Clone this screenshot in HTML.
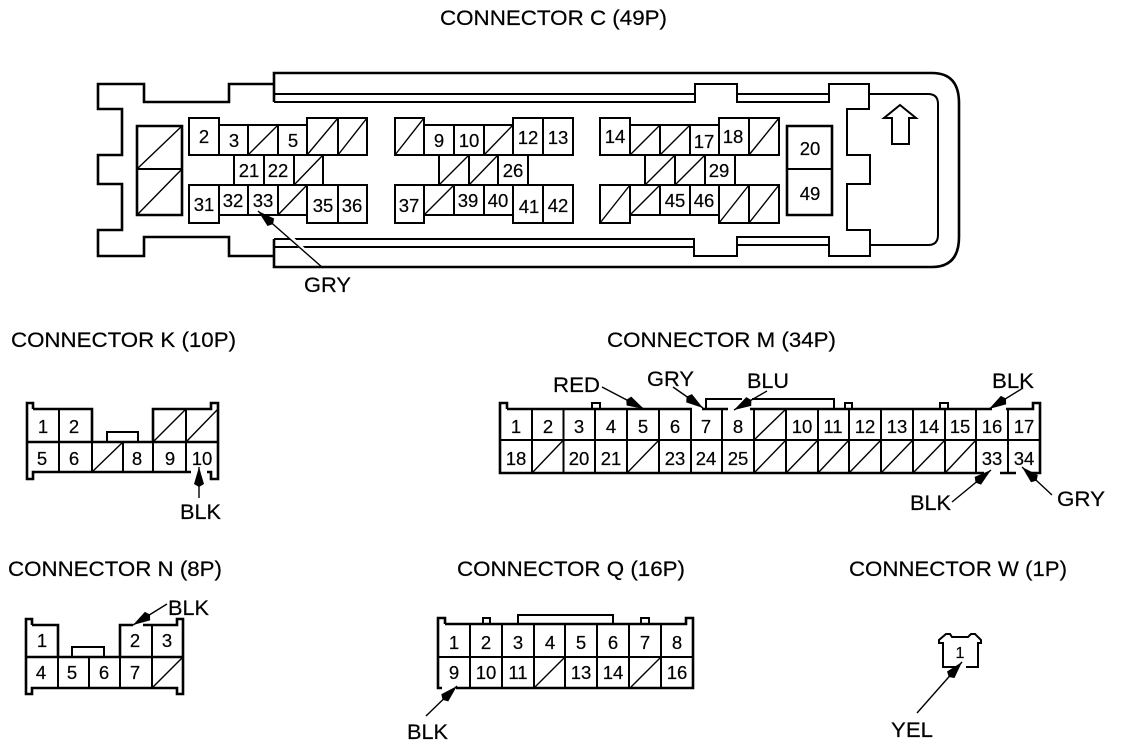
<!DOCTYPE html>
<html><head><meta charset="utf-8"><title>Connector views</title>
<style>
html,body{margin:0;padding:0;background:#fff}
svg{display:block}
text{font-family:"Liberation Sans",sans-serif;fill:#000;stroke:#000;stroke-width:.2}
.t{font-size:21.5px}
.l{font-size:21.5px}
.n{font-size:18.5px;text-anchor:middle}
.o{fill:none;stroke:#000;stroke-width:2.6}
.c{fill:none;stroke:#000;stroke-width:2}
.s{fill:none;stroke:#000;stroke-width:1.4}
.a{fill:none;stroke:#000;stroke-width:1.4;marker-end:url(#h)}
.w{fill:none;stroke:#fff;stroke-width:4}
</style></head><body>
<svg width="1136" height="746" viewBox="0 0 1136 746" xmlns="http://www.w3.org/2000/svg">
<defs><marker id="h" markerUnits="userSpaceOnUse" markerWidth="22" markerHeight="12" refX="20" refY="6" orient="auto"><path d="M0 6L3 1L20 6L3 11z" fill="#000"/></marker></defs>
<rect width="1136" height="746" fill="#fff"/>

<!-- Titles -->
<text class="t" x="440" y="25" textLength="227" lengthAdjust="spacingAndGlyphs">CONNECTOR C (49P)</text>
<text class="t" x="11" y="347" textLength="225" lengthAdjust="spacingAndGlyphs">CONNECTOR K (10P)</text>
<text class="t" x="607" y="347" textLength="229" lengthAdjust="spacingAndGlyphs">CONNECTOR M (34P)</text>
<text class="t" x="8" y="576" textLength="214" lengthAdjust="spacingAndGlyphs">CONNECTOR N (8P)</text>
<text class="t" x="457" y="576" textLength="228" lengthAdjust="spacingAndGlyphs">CONNECTOR Q (16P)</text>
<text class="t" x="849" y="576" textLength="218" lengthAdjust="spacingAndGlyphs">CONNECTOR W (1P)</text>

<!-- Connector C housing -->
<path class="o" d="M274 84H229V102H144V84H98V109H122V155H98V184H122V230H98V256H144V237H229V256H274"/>
<path class="o" d="M274 102V73H932Q959 73 959 103V237Q959 267 932 267H274V239"/>
<path class="c" d="M274 94H695M274 102H695V84H737V102H829V84H869V109H847V155H870V184H847V230H870V256H829V237H737V256H694V239H274M274 247H694M737 94H829M737 245H829"/>
<path class="c" d="M869 94H928Q938 94 938 104V235Q938 245 928 245H870"/>
<path class="c" d="M900 105L884 118H892V144H909V118H916Z"/>

<!-- Left block / right block -->
<path class="o" d="M137 126H182V215H137Z"/>
<path class="c" d="M137 169H182"/>
<path class="s" d="M137 169L182 126M137 215L182 169"/>
<path class="o" d="M787 126H832V215H787Z"/>
<path class="c" d="M787 169H832"/>

<!-- Group A -->
<path class="c" d="M189 118H219V155H189ZM219 125H307V155H219ZM248 125V155M278 125V155M307 118H367V155H307ZM338 118V155"/>
<path class="c" d="M234 155H323V185H234ZM264 155V185M294 155V185"/>
<path class="c" d="M189 185H219V223H189ZM219 185H307V215H219ZM248 185V215M278 185V215M307 185H367V223H307ZM338 185V223"/>
<path class="s" d="M248 155L278 125M307 155L338 118M338 155L367 118M294 185L323 155M278 215L307 185"/>

<!-- Group B -->
<path class="c" d="M395 118H424V155H395ZM424 125H513V155H424ZM454 125V155M484 125V155M513 118H573V155H513ZM543 118V155"/>
<path class="c" d="M439 155H528V185H439ZM469 155V185M498 155V185"/>
<path class="c" d="M395 185H424V223H395ZM424 185H513V215H424ZM454 185V215M484 185V215M513 185H573V223H513ZM543 185V223"/>
<path class="s" d="M395 155L424 118M484 155L513 125M439 185L469 155M469 185L498 155M424 215L454 185"/>

<!-- Group C -->
<path class="c" d="M600 118H630V155H600ZM630 125H719V155H630ZM660 125V155M690 125V155M719 118H779V155H719ZM749 118V155"/>
<path class="c" d="M645 155H735V185H645ZM675 155V185M705 155V185"/>
<path class="c" d="M600 185H630V223H600ZM630 185H719V215H630ZM660 185V215M690 185V215M719 185H779V223H719ZM749 185V223"/>
<path class="s" d="M630 155L660 125M660 155L690 125M749 155L779 118M645 185L675 155M675 185L705 155M600 223L630 185M630 215L660 185M719 223L749 185M749 223L779 185"/>

<!-- C numbers -->
<g class="n">
<text class="n" x="204" y="143">2</text><text class="n" x="234" y="147">3</text><text class="n" x="293" y="147">5</text>
<text class="n" x="249" y="177">21</text><text class="n" x="278" y="177">22</text>
<text class="n" x="204" y="211">31</text><text class="n" x="233" y="207">32</text><text class="n" x="263" y="207">33</text><text class="n" x="323" y="212">35</text><text class="n" x="352" y="212">36</text>
<text class="n" x="439" y="147">9</text><text class="n" x="469" y="147">10</text><text class="n" x="528" y="144">12</text><text class="n" x="558" y="144">13</text>
<text class="n" x="513" y="177">26</text>
<text class="n" x="409" y="212">37</text><text class="n" x="468" y="207">39</text><text class="n" x="498" y="207">40</text><text class="n" x="529" y="213">41</text><text class="n" x="558" y="212">42</text>
<text class="n" x="615" y="143">14</text><text class="n" x="704" y="148">17</text><text class="n" x="733" y="143">18</text>
<text class="n" x="719" y="177">29</text>
<text class="n" x="675" y="207">45</text><text class="n" x="704" y="207">46</text>
<text class="n" x="810" y="155">20</text><text class="n" x="810" y="200">49</text>
</g>
<path class="w" d="M285 232L306 252"/>
<path class="a" d="M323 268L258 211"/>
<text class="l" x="304" y="292" textLength="47" lengthAdjust="spacingAndGlyphs">GRY</text>

<!-- Connector K -->
<path class="o" d="M33 409V403H27V479H33V472H211V479H218V403H211V409H153V442M33 409H92V442M27 442H218"/>
<path class="c" d="M59 409V472M92 442V472M123 442V472M153 442V472M186 409V472M107 442V432H138V442"/>
<path class="s" d="M92 472L123 442M153 442L186 409M186 442L218 409"/>
<text class="n" x="43" y="433">1</text><text class="n" x="74" y="433">2</text>
<text class="n" x="42" y="465">5</text><text class="n" x="74" y="465">6</text><text class="n" x="137" y="465">8</text><text class="n" x="170" y="465">9</text><text class="n" x="202" y="465">10</text>
<path class="w" d="M191 472H207"/>
<path class="a" d="M199 498V467"/>
<text class="l" x="180" y="519" textLength="41" lengthAdjust="spacingAndGlyphs">BLK</text>

<!-- Connector M -->
<path class="o" d="M507 409V403H500V473H1040V403H1033V409H507"/>
<path class="c" d="M500 440H1040M532 409V473M563.5 409V473M595 409V473M627 409V473M659 409V473M691 409V473M722 409V473M754 409V473M786 409V473M818 409V473M849 409V473M881 409V473M913 409V473M945 409V473M976 409V473M1008 409V473"/>
<path class="c" d="M706 409V399H834V409M592 409V403H600V409M845 409V403H852V409M940 409V403H948V409"/>
<path class="s" d="M532 473L563.5 440M627 473L659 440M754 473L786 440M786 473L818 440M818 473L849 440M849 473L881 440M881 473L913 440M913 473L945 440M945 473L976 440M754 440L786 409"/>
<g>
<text class="n" x="516" y="433">1</text><text class="n" x="548" y="433">2</text><text class="n" x="579" y="433">3</text><text class="n" x="611" y="433">4</text><text class="n" x="643" y="433">5</text><text class="n" x="675" y="433">6</text><text class="n" x="706" y="433">7</text><text class="n" x="738" y="433">8</text><text class="n" x="802" y="433">10</text><text class="n" x="833" y="433">11</text><text class="n" x="865" y="433">12</text><text class="n" x="897" y="433">13</text><text class="n" x="929" y="433">14</text><text class="n" x="960" y="433">15</text><text class="n" x="992" y="433">16</text><text class="n" x="1024" y="433">17</text>
<text class="n" x="516" y="465">18</text><text class="n" x="579" y="465">20</text><text class="n" x="611" y="465">21</text><text class="n" x="675" y="465">23</text><text class="n" x="706" y="465">24</text><text class="n" x="738" y="465">25</text><text class="n" x="992" y="465">33</text><text class="n" x="1024" y="465">34</text>
</g>
<path class="w" d="M692 409H702M728 409H750M742 399H752M992 409H1006M984 473H1000M1016 473H1026"/>
<path class="a" d="M602 387L644 409"/>
<path class="a" d="M673 387L703 408"/>
<path class="a" d="M767 391L734 410"/>
<path class="a" d="M1023 388L989 409"/>
<path class="a" d="M952 502L991 470"/>
<path class="a" d="M1052 495L1022 467"/>
<text class="l" x="553" y="392" textLength="47" lengthAdjust="spacingAndGlyphs">RED</text>
<text class="l" x="647" y="386" textLength="47" lengthAdjust="spacingAndGlyphs">GRY</text>
<text class="l" x="747" y="388" textLength="42" lengthAdjust="spacingAndGlyphs">BLU</text>
<text class="l" x="992" y="388" textLength="42" lengthAdjust="spacingAndGlyphs">BLK</text>
<text class="l" x="910" y="510" textLength="41" lengthAdjust="spacingAndGlyphs">BLK</text>
<text class="l" x="1057" y="506" textLength="48" lengthAdjust="spacingAndGlyphs">GRY</text>

<!-- Connector N -->
<path class="o" d="M32 625V619H26V694H32V688H177V694H183V619H177V625H120V657M32 625H58V657M26 657H183"/>
<path class="c" d="M58 657V688M89 657V688M120 657V688M152 625V688M72 657V647H104V657"/>
<path class="s" d="M152 688L183 657"/>
<text class="n" x="42" y="647">1</text><text class="n" x="135" y="647">2</text><text class="n" x="167" y="647">3</text>
<text class="n" x="41" y="679">4</text><text class="n" x="72" y="679">5</text><text class="n" x="104" y="679">6</text><text class="n" x="135" y="679">7</text>
<path class="w" d="M133 625H143"/>
<path class="a" d="M167 604L133 625"/>
<text class="l" x="168" y="615" textLength="41" lengthAdjust="spacingAndGlyphs">BLK</text>

<!-- Connector Q -->
<path class="o" d="M445 624V618H438V688H693V618H686V624H445"/>
<path class="c" d="M438 657H693M470 624V688M502 624V688M534 624V688M565 624V688M597 624V688M629 624V688M661 624V688"/>
<path class="c" d="M518 624V615H613V624M483 624V618H490V624M641 624V618H649V624"/>
<path class="s" d="M534 688L565 657M630 688L661 657"/>
<text class="n" x="454" y="649">1</text><text class="n" x="486" y="649">2</text><text class="n" x="518" y="649">3</text><text class="n" x="550" y="649">4</text><text class="n" x="581" y="649">5</text><text class="n" x="613" y="649">6</text><text class="n" x="645" y="649">7</text><text class="n" x="677" y="649">8</text>
<text class="n" x="454" y="679">9</text><text class="n" x="486" y="679">10</text><text class="n" x="518" y="679">11</text><text class="n" x="581" y="679">13</text><text class="n" x="613" y="679">14</text><text class="n" x="677" y="679">16</text>
<path class="w" d="M442 688H456"/>
<path class="a" d="M426 716L457 686"/>
<text class="l" x="407" y="739" textLength="41" lengthAdjust="spacingAndGlyphs">BLK</text>

<!-- Connector W -->
<path class="c" d="M957 667H943V643H939V640L946 634H950L952 637H968L971 634H975L981 640V643H978V667H966"/>
<text class="n" style="font-size:16px" x="960" y="658">1</text>
<path class="a" d="M917 713L962 662"/>
<text class="l" x="891" y="737" textLength="42" lengthAdjust="spacingAndGlyphs">YEL</text>
</svg>
</body></html>
